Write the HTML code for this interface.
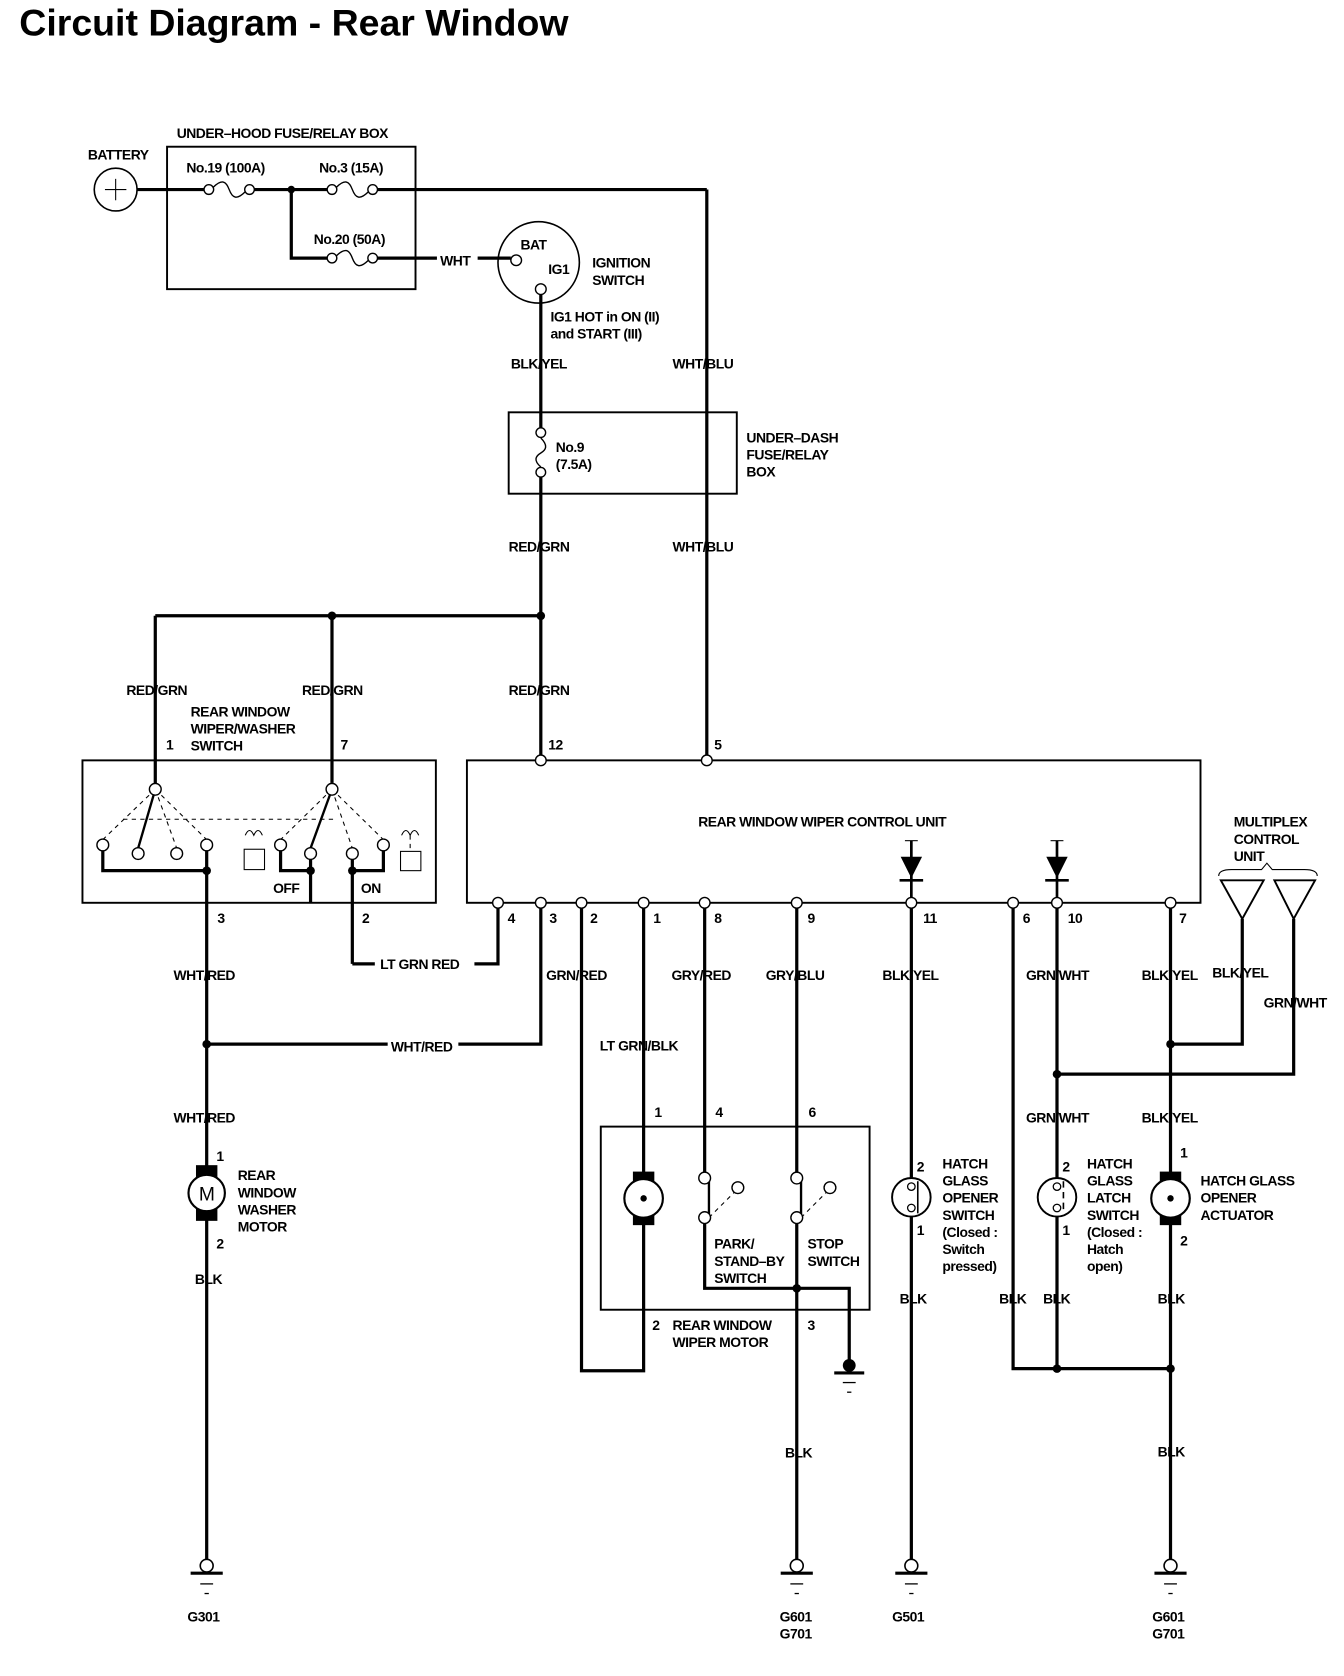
<!DOCTYPE html>
<html><head><meta charset="utf-8"><style>
html,body{margin:0;padding:0;background:#fff}
svg{display:block}
text{font-family:"Liberation Sans Narrow","Liberation Sans",sans-serif;font-weight:bold;font-size:13px;letter-spacing:-0.45px;fill:#000}
.t{font-family:"Liberation Sans",sans-serif;font-size:35px;letter-spacing:0}
</style></head><body>
<svg width="1344" height="1676" viewBox="0 0 1255 1565" xmlns="http://www.w3.org/2000/svg">
<defs>
<g id="gnd"><circle cx="0" cy="0" r="6" fill="#fff" stroke="#000" stroke-width="1.5"/><line x1="-15" y1="7" x2="15" y2="7" stroke="#000" stroke-width="3"/><line x1="-6" y1="17" x2="6" y2="17" stroke="#000" stroke-width="1.2"/><line x1="-2" y1="26" x2="2" y2="26" stroke="#000" stroke-width="1.2"/></g>
<g id="fuseH"><circle cx="0" cy="0" r="4.5" fill="#fff" stroke="#000" stroke-width="1.3"/><circle cx="38" cy="0" r="4.5" fill="#fff" stroke="#000" stroke-width="1.3"/><path d="M4,-2 C12,-10 16,-8 19,0 C22,8 26,10 34,2" fill="none" stroke="#000" stroke-width="1.3"/></g>
<g id="pin"><circle cx="0" cy="0" r="5" fill="#fff" stroke="#000" stroke-width="1.3"/></g>
</defs>
<text class="t" x="18" y="33">Circuit Diagram - Rear Window</text>

<g stroke="#000" fill="none" stroke-width="3">
<line x1="128" y1="177" x2="191" y2="177"/><line x1="237" y1="177" x2="306" y2="177"/><line x1="352" y1="177" x2="660" y2="177"/>
<line x1="660" y1="177" x2="660" y2="705"/>
<polyline points="272,177 272,241 306,241"/><line x1="352" y1="241" x2="408" y2="241"/><line x1="446" y1="241" x2="477" y2="241"/>
<line x1="505" y1="275" x2="505" y2="400"/><line x1="505" y1="445" x2="505" y2="705"/>
<line x1="145" y1="575" x2="505" y2="575"/>
<line x1="145" y1="575" x2="145" y2="732"/><line x1="310" y1="575" x2="310" y2="731"/>
<polyline points="96,789 96,813 193,813 193,789"/>
<line x1="193" y1="813" x2="193" y2="1456"/>
<polyline points="262,789 262,813 290,813"/><line x1="290" y1="797" x2="290" y2="843"/>
<line x1="329" y1="797" x2="329" y2="900"/><polyline points="329,813 358,813 358,789"/>
<line x1="329" y1="900" x2="350" y2="900"/><polyline points="443,900 465,900 465,848"/>
<line x1="193" y1="975" x2="362" y2="975"/><polyline points="428,975 505,975 505,848"/>
<polyline points="543,848 543,1280 601,1280 601,1140"/>
<line x1="601" y1="848" x2="601" y2="1096"/>
<line x1="658" y1="848" x2="658" y2="1095"/>
<line x1="744" y1="848" x2="744" y2="1095"/>
<polyline points="658,1142 658,1203 793,1203 793,1270"/>
<line x1="744" y1="1142" x2="744" y2="1456"/>
<line x1="851" y1="848" x2="851" y2="1456"/>
<polyline points="946,848 946,1278 1093,1278"/>
<line x1="987" y1="848" x2="987" y2="1278"/>
<line x1="1093" y1="848" x2="1093" y2="1456"/>
<polyline points="987,1003 1208,1003 1208,858"/>
<polyline points="1093,975 1160,975 1160,858"/>
</g>

<g stroke="#000" fill="none" stroke-width="1.8">
<rect x="156" y="137" width="232" height="133"/>
<rect x="475" y="385" width="213" height="76"/>
<rect x="77" y="710" width="330" height="133"/>
<rect x="436" y="710" width="685" height="133"/>
<rect x="561" y="1052" width="251" height="171"/>
<circle cx="108" cy="177" r="20" stroke-width="1.5"/>
<circle cx="503" cy="245" r="38" stroke-width="1.5"/>
<polygon points="1140,822 1180,822 1160,858"/><polygon points="1190,822 1228,822 1208,858"/>
<path d="M1138,818 Q1138,812 1150,812 L1178,812 L1183,806 L1188,812 L1218,812 Q1230,812 1230,818" stroke-width="1"/>
</g>
<g stroke="#000" stroke-width="1"><line x1="98" y1="177" x2="118" y2="177"/><line x1="108" y1="167" x2="108" y2="187"/></g>

<use href="#fuseH" x="195" y="177"/><use href="#fuseH" x="310" y="177"/><use href="#fuseH" x="310" y="241"/>
<circle cx="272" cy="177" r="3.5"/>
<circle cx="505" cy="404" r="4.5" fill="#fff" stroke="#000" stroke-width="1.3"/><circle cx="505" cy="441" r="4.5" fill="#fff" stroke="#000" stroke-width="1.3"/>
<path d="M505,409 C512,416 510,420 505,423 C500,426 498,430 505,436" fill="none" stroke="#000" stroke-width="1.3"/>
<circle cx="482" cy="243" r="5" fill="#fff" stroke="#000" stroke-width="1.3"/><circle cx="505" cy="270" r="5" fill="#fff" stroke="#000" stroke-width="1.3"/>

<g fill="#000"><circle cx="310" cy="575" r="4"/><circle cx="505" cy="575" r="4"/><circle cx="193" cy="813" r="4"/><circle cx="290" cy="813" r="4"/><circle cx="329" cy="813" r="4"/><circle cx="193" cy="975" r="4"/><circle cx="744" cy="1203" r="4"/><circle cx="987" cy="1003" r="4"/><circle cx="1093" cy="975" r="4"/><circle cx="987" cy="1278" r="4"/><circle cx="1093" cy="1278" r="4"/></g>

<g stroke="#000" stroke-width="1" stroke-dasharray="4,4" fill="none">
<line x1="145" y1="737" x2="96" y2="784"/><line x1="145" y1="737" x2="165" y2="792"/><line x1="145" y1="737" x2="193" y2="784"/>
<line x1="310" y1="737" x2="262" y2="784"/><line x1="310" y1="737" x2="329" y2="792"/><line x1="310" y1="737" x2="358" y2="784"/>
<line x1="115" y1="765" x2="312" y2="765"/>
<line x1="383" y1="780" x2="383" y2="797"/>
<line x1="662" y1="1137" x2="686" y2="1113"/><line x1="748" y1="1137" x2="772" y2="1113"/>
</g>
<g stroke="#000" stroke-width="2.2"><line x1="145" y1="737" x2="129" y2="792"/><line x1="310" y1="737" x2="290" y2="792"/>
<line x1="662" y1="1100" x2="662" y2="1137"/><line x1="748" y1="1100" x2="748" y2="1137"/></g>
<g fill="#fff" stroke="#000" stroke-width="1.3">
<circle cx="145" cy="737" r="5.5"/><circle cx="310" cy="737" r="5.5"/>
<circle cx="96" cy="789" r="5.5"/><circle cx="129" cy="797" r="5.5"/><circle cx="165" cy="797" r="5.5"/><circle cx="193" cy="789" r="5.5"/>
<circle cx="262" cy="789" r="5.5"/><circle cx="290" cy="797" r="5.5"/><circle cx="329" cy="797" r="5.5"/><circle cx="358" cy="789" r="5.5"/>
<rect x="228" y="793" width="19" height="19" stroke-width="1"/><rect x="374" y="795" width="19" height="18" stroke-width="1"/>
<path d="M229,780 Q233,771 237,780 Q241,771 245,780" fill="none" stroke-width="1"/>
<path d="M375,780 Q379,771 383,780 Q387,771 391,780" fill="none" stroke-width="1"/>
<circle cx="658" cy="1100" r="5.5"/><circle cx="658" cy="1137" r="5.5"/><circle cx="689" cy="1109" r="5.5"/>
<circle cx="744" cy="1100" r="5.5"/><circle cx="744" cy="1137" r="5.5"/><circle cx="775" cy="1109" r="5.5"/>
</g>

<use href="#pin" x="465" y="843"/><use href="#pin" x="505" y="843"/><use href="#pin" x="543" y="843"/><use href="#pin" x="601" y="843"/><use href="#pin" x="658" y="843"/><use href="#pin" x="744" y="843"/><use href="#pin" x="851" y="843"/><use href="#pin" x="946" y="843"/><use href="#pin" x="987" y="843"/><use href="#pin" x="1093" y="843"/>
<use href="#pin" x="505" y="710"/><use href="#pin" x="660" y="710"/>

<g stroke="#000" stroke-width="2.5"><line x1="851" y1="785" x2="851" y2="838"/><line x1="987" y1="785" x2="987" y2="838"/>
<line x1="840" y1="822" x2="862" y2="822"/><line x1="976" y1="822" x2="998" y2="822"/></g>
<g fill="#000"><polygon points="841,800 861,800 851,820"/><polygon points="977,800 997,800 987,820"/></g>
<g stroke="#000" stroke-width="1" fill="none"><path d="M845,785 L857,785"/><path d="M981,785 L993,785"/></g>

<g>
<rect x="183" y="1088" width="20" height="12" fill="#000"/><rect x="183" y="1128" width="20" height="12" fill="#000"/>
<circle cx="193" cy="1114" r="17" fill="#fff" stroke="#000" stroke-width="2"/>
<text x="193" y="1121" text-anchor="middle" style="font-size:18px;font-weight:normal;font-family:'Liberation Sans',sans-serif">M</text>
<rect x="591" y="1094" width="20" height="12" fill="#000"/><rect x="591" y="1132" width="20" height="12" fill="#000"/>
<circle cx="601" cy="1119" r="18" fill="#fff" stroke="#000" stroke-width="2"/><circle cx="601" cy="1119" r="3" fill="#000"/>
<rect x="1083" y="1094" width="20" height="12" fill="#000"/><rect x="1083" y="1132" width="20" height="12" fill="#000"/>
<circle cx="1093" cy="1119" r="18" fill="#fff" stroke="#000" stroke-width="2"/><circle cx="1093" cy="1119" r="3" fill="#000"/>
<circle cx="851" cy="1118" r="18" fill="#fff" stroke="#000" stroke-width="1.8"/>
<circle cx="987" cy="1118" r="18" fill="#fff" stroke="#000" stroke-width="1.8"/>
<g fill="#fff" stroke="#000" stroke-width="1.2"><circle cx="851" cy="1108" r="3.5"/><circle cx="851" cy="1128" r="3.5"/><circle cx="987" cy="1108" r="3.5"/><circle cx="987" cy="1128" r="3.5"/></g>
<g stroke="#000" stroke-width="1.5"><line x1="857" y1="1103" x2="857" y2="1133"/><line x1="993" y1="1103" x2="993" y2="1133" stroke-dasharray="6,4"/></g>
</g>

<use href="#gnd" x="193" y="1462"/><use href="#gnd" x="744" y="1462"/><use href="#gnd" x="851" y="1462"/><use href="#gnd" x="1093" y="1462"/>
<circle cx="793" cy="1275" r="6" fill="#000"/>
<g stroke="#000"><line x1="779" y1="1282" x2="807" y2="1282" stroke-width="3"/><line x1="787" y1="1291" x2="799" y2="1291" stroke-width="1.2"/><line x1="791" y1="1300" x2="795" y2="1300" stroke-width="1.2"/></g>

<text x="82" y="149">BATTERY</text>
<text x="165" y="129">UNDER–HOOD FUSE/RELAY BOX</text>
<text x="174" y="161">No.19 (100A)</text>
<text x="298" y="161">No.3 (15A)</text>
<text x="293" y="228">No.20 (50A)</text>
<text x="411" y="248">WHT</text>
<text x="486" y="233">BAT</text>
<text x="512" y="256">IG1</text>
<text x="553" y="250">IGNITION</text><text x="553" y="266">SWITCH</text>
<text x="514" y="300">IG1 HOT in ON (II)</text><text x="514" y="316">and START (III)</text>
<text x="477" y="344">BLK/YEL</text><text x="628" y="344">WHT/BLU</text>
<text x="519" y="422">No.9</text><text x="519" y="438">(7.5A)</text>
<text x="697" y="413">UNDER–DASH</text><text x="697" y="429">FUSE/RELAY</text><text x="697" y="445">BOX</text>
<text x="475" y="515">RED/GRN</text><text x="628" y="515">WHT/BLU</text>
<text x="118" y="649">RED/GRN</text><text x="282" y="649">RED/GRN</text><text x="475" y="649">RED/GRN</text>
<text x="178" y="669">REAR WINDOW</text><text x="178" y="685">WIPER/WASHER</text><text x="178" y="701">SWITCH</text>
<text x="155" y="700">1</text><text x="318" y="700">7</text><text x="512" y="700">12</text><text x="667" y="700">5</text>
<text x="652" y="772">REAR WINDOW WIPER CONTROL UNIT</text>
<text x="1152" y="772">MULTIPLEX</text><text x="1152" y="788">CONTROL</text><text x="1152" y="804">UNIT</text>
<text x="255" y="834">OFF</text><text x="337" y="834">ON</text>
<text x="203" y="862">3</text><text x="338" y="862">2</text>
<text x="474" y="862">4</text><text x="513" y="862">3</text><text x="551" y="862">2</text><text x="610" y="862">1</text><text x="667" y="862">8</text><text x="754" y="862">9</text><text x="862" y="862">11</text><text x="955" y="862">6</text><text x="997" y="862">10</text><text x="1101" y="862">7</text>
<text x="355" y="905">LT GRN RED</text>
<text x="162" y="915">WHT/RED</text><text x="510" y="915">GRN/RED</text><text x="627" y="915">GRY/RED</text><text x="715" y="915">GRY/BLU</text><text x="824" y="915">BLK/YEL</text><text x="958" y="915">GRN/WHT</text><text x="1066" y="915">BLK/YEL</text><text x="1132" y="913">BLK/YEL</text><text x="1180" y="941">GRN/WHT</text>
<text x="365" y="982">WHT/RED</text><text x="560" y="981">LT GRN/BLK</text>
<text x="162" y="1048">WHT/RED</text><text x="958" y="1048">GRN/WHT</text><text x="1066" y="1048">BLK/YEL</text>
<text x="611" y="1043">1</text><text x="668" y="1043">4</text><text x="755" y="1043">6</text>
<text x="202" y="1084">1</text><text x="202" y="1166">2</text>
<text x="222" y="1102">REAR</text><text x="222" y="1118">WINDOW</text><text x="222" y="1134">WASHER</text><text x="222" y="1150">MOTOR</text>
<text x="182" y="1199">BLK</text>
<text x="667" y="1166">PARK/</text><text x="667" y="1182">STAND–BY</text><text x="667" y="1198">SWITCH</text>
<text x="754" y="1166">STOP</text><text x="754" y="1182">SWITCH</text>
<text x="609" y="1242">2</text><text x="628" y="1242">REAR WINDOW</text><text x="628" y="1258">WIPER MOTOR</text><text x="754" y="1242">3</text>
<text x="856" y="1094">2</text><text x="856" y="1153">1</text>
<text x="880" y="1091">HATCH</text><text x="880" y="1107">GLASS</text><text x="880" y="1123">OPENER</text><text x="880" y="1139">SWITCH</text><text x="880" y="1155">(Closed :</text><text x="880" y="1171">Switch</text><text x="880" y="1187">pressed)</text>
<text x="992" y="1094">2</text><text x="992" y="1153">1</text>
<text x="1015" y="1091">HATCH</text><text x="1015" y="1107">GLASS</text><text x="1015" y="1123">LATCH</text><text x="1015" y="1139">SWITCH</text><text x="1015" y="1155">(Closed :</text><text x="1015" y="1171">Hatch</text><text x="1015" y="1187">open)</text>
<text x="1102" y="1081">1</text><text x="1102" y="1163">2</text>
<text x="1121" y="1107">HATCH GLASS</text><text x="1121" y="1123">OPENER</text><text x="1121" y="1139">ACTUATOR</text>
<text x="840" y="1217">BLK</text><text x="933" y="1217">BLK</text><text x="974" y="1217">BLK</text><text x="1081" y="1217">BLK</text>
<text x="733" y="1361">BLK</text><text x="1081" y="1360">BLK</text>
<text x="175" y="1514">G301</text><text x="728" y="1514">G601</text><text x="728" y="1530">G701</text><text x="833" y="1514">G501</text><text x="1076" y="1514">G601</text><text x="1076" y="1530">G701</text>
</svg>
</body></html>
